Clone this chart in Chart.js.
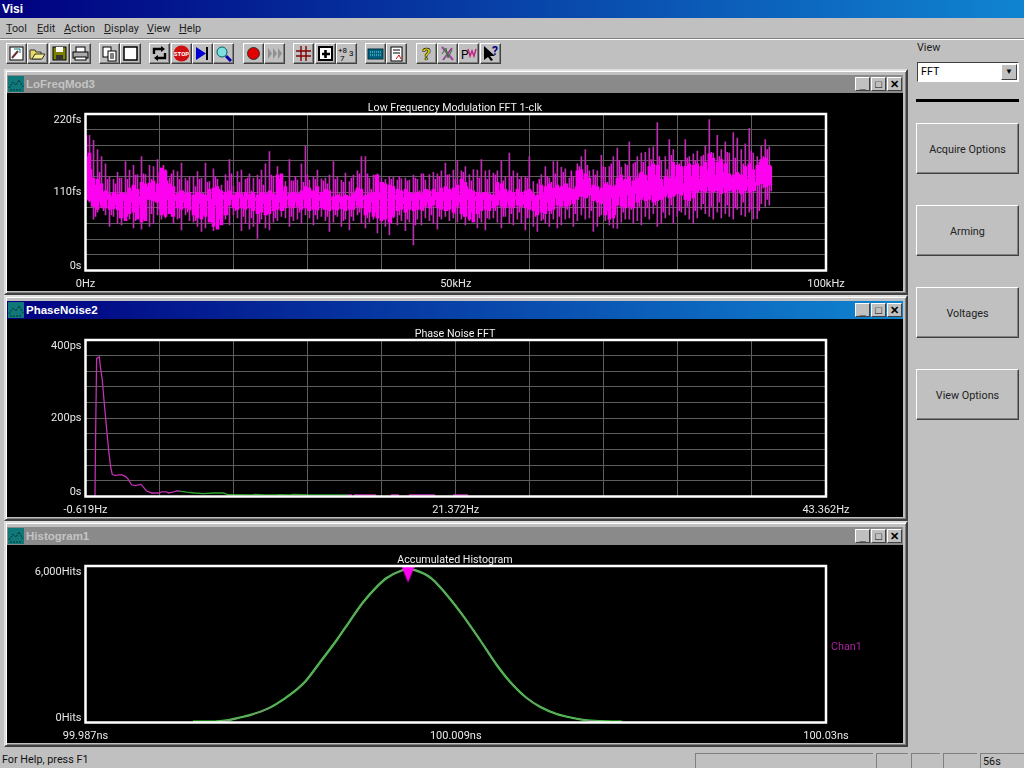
<!DOCTYPE html>
<html><head><meta charset="utf-8">
<script src="https://cdn.jsdelivr.net/npm/chart.js@4"></script>
<style>
html,body{margin:0;padding:0;width:1024px;height:768px;overflow:hidden;background:#c0c0c0;font-family:Roboto,"Liberation Sans",Arial,sans-serif;font-size:10.8px;color:#000}
.abs{position:absolute;box-sizing:border-box}
#appbar{left:0;top:0;width:1024px;height:18px;background:linear-gradient(90deg,#000080,#1084d0);color:#fff;font-family:"Liberation Sans",Arial,sans-serif;font-weight:bold;font-size:12px;line-height:18px;padding-left:2px}
.menu{top:22px;font-size:10.8px;color:#222}
.menu u{text-decoration:underline}
.tb{top:43px;width:21px;height:21px;background:#c0c0c0;border:1px solid;border-color:#fff #404040 #404040 #fff;box-shadow:inset -1px -1px 0 #808080;display:flex;align-items:center;justify-content:center}
.tb svg{width:17px;height:17px;display:block}
.win{left:4px;width:904px;height:226px;background:#c0c0c0;border:2px solid;border-color:#dfdfdf #404040 #404040 #dfdfdf;box-shadow:inset 1px 1px 0 #fff,inset -1px -1px 0 #808080}
.tbar{left:1px;top:4px;right:3px;height:18px;background:#8a8a8a;color:#c4c4c4;font-family:"Liberation Sans",Arial,sans-serif;font-weight:bold;font-size:11.5px;line-height:18px;padding-left:19px}
.tbar.on{background:linear-gradient(90deg,#000080,#1084d0);color:#fff}
.ico{left:1px;top:1px;width:16px;height:16px}
.wb{top:2px;width:15px;height:14px;background:#c0c0c0;border:1px solid;border-color:#fff #404040 #404040 #fff;color:#000;font-size:11px;line-height:12px;text-align:center;font-family:"Liberation Sans",Arial,sans-serif}
.client{left:1px;top:22px;width:896px;height:198px;background:#000}
.client canvas{display:block}
.rbtn{left:916px;width:103px;height:51px;border:1px solid;border-color:#fff #404040 #404040 #fff;box-shadow:inset -1px -1px 0 #808080;text-align:center;line-height:51px;font-size:10.8px;color:#222}
.pane{top:753px;height:15px;border-top:1px solid #808080;border-left:1px solid #808080;font-size:10.8px;line-height:15px;padding-left:2px;color:#111}
</style></head><body>
<div class="abs" id="appbar">Visi</div>
<div class="abs menu" style="left:6px"><u>T</u>ool</div>
<div class="abs menu" style="left:37px"><u>E</u>dit</div>
<div class="abs menu" style="left:64px"><u>A</u>ction</div>
<div class="abs menu" style="left:104px"><u>D</u>isplay</div>
<div class="abs menu" style="left:147px"><u>V</u>iew</div>
<div class="abs menu" style="left:179px"><u>H</u>elp</div>
<div class="abs" style="left:0;top:38px;width:1024px;height:1px;background:#808080"></div>
<div class="abs" style="left:0;top:39px;width:1024px;height:1px;background:#fff"></div>
<div id="tools"></div>

<div class="abs win" style="top:69px"><div class="abs tbar"><svg class="abs ico" viewBox="0 0 16 16"><rect width="16" height="16" fill="#107878"/><path d="M1 12l4-6 3 3 3-5 4 7M2 14h12" stroke="#033" fill="none" stroke-dasharray="2 1"/></svg>LoFreqMod3
<div class="abs wb" style="right:33px">_</div><div class="abs wb" style="right:17px">□</div><div class="abs wb" style="right:1px">✕</div></div>
<div class="abs client"><canvas id="c1" width="896" height="198"></canvas></div></div>

<div class="abs win" style="top:295px"><div class="abs tbar on"><svg class="abs ico" viewBox="0 0 16 16"><rect width="16" height="16" fill="#107878"/><path d="M1 12l4-6 3 3 3-5 4 7M2 14h12" stroke="#033" fill="none" stroke-dasharray="2 1"/></svg>PhaseNoise2
<div class="abs wb" style="right:33px">_</div><div class="abs wb" style="right:17px">□</div><div class="abs wb" style="right:1px">✕</div></div>
<div class="abs client"><canvas id="c2" width="896" height="198"></canvas></div></div>

<div class="abs win" style="top:521px"><div class="abs tbar"><svg class="abs ico" viewBox="0 0 16 16"><rect width="16" height="16" fill="#107878"/><path d="M1 12l4-6 3 3 3-5 4 7M2 14h12" stroke="#033" fill="none" stroke-dasharray="2 1"/></svg>Histogram1
<div class="abs wb" style="right:33px">_</div><div class="abs wb" style="right:17px">□</div><div class="abs wb" style="right:1px">✕</div></div>
<div class="abs client"><canvas id="c3" width="896" height="198"></canvas>
<div class="abs" style="left:824px;top:95px;color:#a824a0;font-size:10.8px">Chan1</div></div></div>

<div class="abs" style="left:917px;top:41px;font-size:10.8px;color:#222">View</div>
<div class="abs" style="left:917px;top:62px;width:102px;height:20px;background:#fff;border:1px solid;border-color:#404040 #fff #fff #404040;padding-left:3px;line-height:18px;font-size:10.8px">FFT
<div class="abs" style="right:1px;top:1px;width:16px;height:16px;background:#c0c0c0;border:1px solid;border-color:#fff #404040 #404040 #fff;font-size:8px;line-height:14px;text-align:center">▼</div></div>
<div class="abs" style="left:916px;top:99px;width:103px;height:3px;background:#000"></div>
<div class="abs rbtn" style="top:123px">Acquire Options</div>
<div class="abs rbtn" style="top:205px">Arming</div>
<div class="abs rbtn" style="top:287px">Voltages</div>
<div class="abs rbtn" style="top:369px">View Options</div>

<div class="abs" style="left:2px;top:753px;font-size:10.8px;color:#111">For Help, press F1</div>
<div class="abs pane" style="left:695px;width:178px"></div>
<div class="abs pane" style="left:876px;width:32px"></div>
<div class="abs pane" style="left:911px;width:29px"></div>
<div class="abs pane" style="left:943px;width:34px"></div>
<div class="abs pane" style="left:980px;width:44px">56s</div>

<script>
// ---- Low Frequency Modulation FFT (femtoseconds, one column every binKHz)
const binKHz = 0.54;
const lfSpikeHigh = [197,190,183,170,160,150,132,128,138,130,153,141,148,135,160,135,148,146,156,144,142,130,141,139,151,130,132,132,139,130,151,125,143,128,120,135,156,118,139,141,128,136,130,134,141,150,167,132,146,134,125,156,126,127,150,175,127,132,141,129,130,134,153,132,127,137,125,134,140,160,160,130,134,136,130,128,132,131,127,129,130,127,134,128,136,127,135,138,136,140,151,135,141,155,140,146,135,142,141,156,140,141,137,140,155,132,165,140,137,132,132,160,125,122,135,146,130,153,153,145,143,130,132,150,160,170,140,142,140,162,145,146,160,172,145,150,181,150,160,165,166,172,174,208,155,160,184,170,152,155,184,160,164,168,160,175,212,165,190,170,181,165,194,186,170,178,200,165,160,175,184,174];
const lfSpikeLow = [98,96,72,82,88,78,62,76,66,64,70,72,60,74,58,70,62,66,78,72,74,80,66,72,57,78,70,68,62,55,60,72,56,68,76,72,64,78,74,56,66,58,62,45,72,60,57,68,70,76,74,62,70,72,66,78,74,64,72,76,70,55,68,76,62,72,57,70,78,66,60,68,72,53,66,62,50,74,64,70,56,68,36,72,64,74,70,66,58,72,76,70,74,68,72,64,70,76,60,68,57,72,74,68,60,76,66,64,72,66,57,74,62,55,70,66,62,72,60,64,72,74,62,70,78,72,74,55,62,78,70,64,60,59,68,72,72,66,70,64,76,72,80,62,66,74,78,66,76,82,78,72,66,74,86,80,76,72,82,74,80,76,72,86,78,76,82,72,73,94,90,92];
const lfCoreHigh = [190,165,130,128,122,112,108,110,107,110,108,116,120,114,124,122,123,126,122,144,140,122,118,108,112,108,110,106,110,108,106,114,116,118,112,110,112,106,110,108,110,107,110,106,110,108,112,108,134,136,118,108,110,108,112,118,116,112,118,110,114,112,104,106,104,106,104,108,116,114,106,108,110,134,124,122,120,118,114,112,114,110,108,110,108,114,112,114,110,116,118,114,116,120,128,124,114,112,110,108,110,108,106,124,122,114,112,110,114,110,112,114,108,106,120,118,122,116,120,118,122,116,114,140,142,136,130,120,118,116,122,120,118,130,134,128,132,126,130,138,134,146,150,148,128,132,130,152,148,146,146,150,148,150,146,152,164,158,152,156,150,136,134,138,134,146,150,142,148,156,158,148];
const lfCoreLow = [100,98,90,86,90,88,86,87,85,74,70,80,82,72,68,70,100,98,96,78,76,80,76,88,86,88,85,78,74,72,76,68,62,58,64,78,92,88,86,88,86,88,84,80,82,78,80,84,86,84,88,90,88,90,86,88,84,86,85,88,86,84,86,85,87,84,86,86,90,88,78,82,76,74,70,72,68,76,84,86,82,86,84,86,85,90,88,92,88,86,84,86,82,90,80,76,72,68,80,84,86,84,88,92,90,88,90,88,92,90,88,86,84,78,82,80,84,86,92,90,90,92,94,100,104,102,106,98,96,94,78,72,74,92,90,88,90,88,96,100,98,100,96,98,100,104,102,104,108,106,100,98,102,110,112,110,112,110,112,108,110,112,110,114,108,112,110,112,120,122,118,120];
const lfFillHigh = [160,142,120,138,110,128,104,122,130,108,128,112,134,104,136,118,128,110,138,148,126,136,106,128,112,126,102,118,128,108,124,100,132,114,106,126,136,108,124,104,130,112,102,128,120,108,134,106,128,112,104,126,132,108,124,134,112,128,106,126,122,102,128,108,124,106,130,112,136,104,136,114,134,108,124,100,128,106,132,102,126,108,130,112,136,114,104,128,132,110,134,112,128,106,138,118,126,104,130,110,128,106,134,112,126,108,132,104,128,106,130,112,104,128,108,132,124,136,116,138,122,140,118,146,128,148,116,134,112,146,124,150,120,154,126,148,118,152,136,152,126,156,134,160,118,142,162,130,150,122,158,132,154,128,162,140,166,134,160,138,166,130,158,136,150,128,168,124,152,160,170,146];
const lfFillLow = [100,90,76,96,84,100,78,92,74,98,76,96,70,92,72,100,80,96,86,80,100,76,98,74,96,82,102,70,94,78,98,68,92,72,100,78,100,84,102,76,100,74,98,66,94,78,100,74,96,84,100,76,96,82,100,86,102,78,98,86,76,100,78,96,70,100,76,98,82,100,74,96,82,100,72,98,66,100,78,94,72,98,64,100,84,96,78,100,76,98,84,100,80,96,76,100,82,98,74,100,74,98,84,100,76,96,80,100,82,94,74,98,76,100,72,96,80,102,76,98,86,100,80,104,88,102,84,100,76,104,84,102,78,104,82,106,86,108,90,104,88,106,92,100,82,108,92,106,84,110,90,112,84,114,94,118,90,112,96,116,92,114,88,110,96,118,86,112,84,116,100,112];
const lfTickLabelsX = ["0Hz","50kHz","100kHz"];
const lfTickLabelsY = ["0s","110fs","220fs"];

// ---- Phase Noise FFT (Hz, ps)
const pnPinkX = [-0.055,-0.015,0.044,0.20,0.28,0.38,0.48,0.58,0.68,0.78,0.88,0.97,1.13,1.53,1.77,1.92,2.12,2.32,2.68,2.82,3.01,3.31,3.75,3.90,4.20,4.30,4.56,4.80,4.95];
const pnPinkY = [0,172,353,357,327,297,246,199,152,109,75,56,54,56,51,44,30,28,31,24,14,9,9,12,12,9,11,14.5,14];
const pnGreenX = [4.95,5.39,5.88,6.38,6.97,7.57,7.86,9.25,9.45,10.04,10.73,10.93,11.53,11.72,12.42,12.61,14.97];
const pnGreenY = [14,11,9,7.6,9,9,4.5,4,5.5,4,4,5,4,5.5,5,4,4];
const pnTailX = [14.97,15.21,null,15.33,16.63,null,17.52,18.0,null,18.59,20.14,null,21.21,22.1];
const pnTailY = [4,4,null,4,4,null,4,4,null,4,4,null,4,4];
const pnTickLabelsX = ["-0.619Hz","21.372Hz","43.362Hz"];
const pnTickLabelsY = ["0s","200ps","400ps"];

// ---- Accumulated Histogram (ns, hits)
const hgX = [99.99324,99.99452,99.99510,99.99597,99.99655,99.99771,99.99858,99.99922,99.99975,100.00062,100.00159,100.00236,100.00311,100.00391,100.00449,100.00536,100.00573,100.00613,100.00710,100.00797,100.00892,100.00991,100.01088,100.01165,100.01262,100.01339,100.01436,100.01531,100.01630,100.01814];
const hgHits = [31,38,69,190,282,570,925,1240,1560,2310,3163,3900,4600,5200,5540,5830,5874,5840,5520,4900,4100,3163,2205,1564,939,606,326,173,69,31];
const hgMarkerX = [100.00573];
const hgMarkerY = [5674];
const hgTickLabelsX = ["99.987ns","100.009ns","100.03ns"];
const hgTickLabelsY = ["0Hits","6,000Hits"];

const FAM = 'Roboto,"Liberation Sans",Arial,sans-serif';
const FS = 11;
const boxPlugin = {id:'box',afterDatasetsDraw(c){const a=c.chartArea,x=c.ctx;x.save();x.strokeStyle='#fff';x.lineWidth=2.5;x.strokeRect(a.left,a.top,a.width,a.height);x.restore();}};

function scales(xmin,xmax,xdiv,xl,ymax,ydiv,yl,grid){
  const step=(arr,n)=>n/(arr.length-1);
  const yLast=ydiv;
  return {
    x:{type:'linear',min:xmin,max:xmax,offset:false,
       afterBuildTicks(s){s.ticks=Array.from({length:xdiv+1},(_,k)=>({value:xmin+(xmax-xmin)*k/xdiv}));},
       afterFit(s){s.height=20.5;},
       grid:{display:grid,offset:false,color:'#5e5e5e',lineWidth:1,drawTicks:false},border:{display:false},
       ticks:{color:'#e8e8e8',font:{family:FAM,size:FS},padding:7,maxRotation:0,autoSkip:false,
         callback:(v,i)=>i%step(xl,xdiv)===0?xl[i/step(xl,xdiv)]:''}},
    y:{min:0,max:ymax,
       afterBuildTicks(s){s.ticks=Array.from({length:ydiv+1},(_,k)=>({value:ymax*k/ydiv}));},
       afterFit(s){s.width=78.5;},
       grid:{display:grid,color:'#5e5e5e',lineWidth:1,drawTicks:false},border:{display:false},
       ticks:{color:'#e8e8e8',padding:4,autoSkip:false,
         font:c=>({family:FAM,size:FS,lineHeight:(c.index===0?9:c.index===yLast?12:15)/FS}),
         callback:(v,i)=>{ if(i%step(yl,ydiv)!==0) return ''; const t=yl[i/step(yl,ydiv)];
           return i===0?[t,'']:i===yLast?['',t]:t; }}},
    yRight:{position:'right',display:true,afterFit(s){s.width=77;},grid:{display:false},border:{display:false},ticks:{display:false}}
  };
}
function opts(title,sc){return {responsive:false,animation:false,devicePixelRatio:1,
  layout:{padding:0},
  plugins:{legend:{display:false},tooltip:{enabled:false},
    title:{display:true,text:title,color:'#f0f0f0',font:{family:FAM,size:10.7,weight:'normal',lineHeight:11/10.7},padding:{top:10,bottom:0}}},
  scales:sc};}
const pts=(xs,ys)=>xs.map((x,i)=>({x,y:ys[i]}));

new Chart(document.getElementById('c1'),{type:'bar',plugins:[boxPlugin],data:{datasets:[
  {label:'Spikes',grouped:false,order:3,barThickness:1,backgroundColor:'#bc2cb0',
   data:lfSpikeHigh.map((h,i)=>({x:i*binKHz,y:[lfSpikeLow[i],h]}))},
  {label:'Fill',grouped:false,order:2,barThickness:1,backgroundColor:'#e814dc',
   data:lfFillHigh.map((h,i)=>({x:(i+0.5)*binKHz,y:[lfFillLow[i],h]}))},
  {label:'Chan1',grouped:false,order:1,barThickness:3,backgroundColor:'#ff00f0',
   data:lfCoreHigh.map((h,i)=>({x:i*binKHz,y:[lfCoreLow[i],h]}))}
]},options:opts('Low Frequency Modulation FFT 1-clk',scales(0,100,10,lfTickLabelsX,220,10,lfTickLabelsY,true))});

new Chart(document.getElementById('c2'),{type:'line',plugins:[boxPlugin],data:{datasets:[
  {label:'Phase noise',data:pts(pnPinkX,pnPinkY),borderColor:'#c030b0',borderWidth:1.3,pointRadius:0,tension:0},
  {label:'Phase noise low',data:pts(pnGreenX,pnGreenY),borderColor:'#2fa52f',borderWidth:1.3,pointRadius:0,tension:0},
  {label:'Phase noise tail',data:pts(pnTailX,pnTailY),borderColor:'#c030b0',borderWidth:1.6,pointRadius:0,tension:0,spanGaps:false}
]},options:opts('Phase Noise FFT',scales(-0.619,43.362,10,pnTickLabelsX,400,10,pnTickLabelsY,true))});

const tri=document.createElement('canvas');tri.width=13;tri.height=16;
{const t=tri.getContext('2d');t.fillStyle='#ff00f0';t.beginPath();t.moveTo(0,0);t.lineTo(13,0);t.lineTo(6.5,16);t.closePath();t.fill();}

new Chart(document.getElementById('c3'),{type:'line',plugins:[boxPlugin],data:{datasets:[
  {label:'Chan1 fit',order:3,data:pts(hgX,hgHits),borderColor:'#28f028',borderWidth:2.2,pointRadius:0,cubicInterpolationMode:'monotone'},
  {label:'Chan1',order:2,data:pts(hgX,hgHits),borderColor:'#808880',borderWidth:1.2,pointRadius:0,cubicInterpolationMode:'monotone'},
  {label:'Marker',order:1,data:pts(hgMarkerX,hgMarkerY),showLine:false,pointStyle:tri,pointRadius:8}
]},options:opts('Accumulated Histogram',scales(99.987,100.03,10,hgTickLabelsX,6000,10,hgTickLabelsY,false))});

// ---- toolbar buttons
const toolLefts=[6,27,49,70,99,120,149,171,192,213,243,264,293,315,336,365,386,416,437,458,480];
const toolIcons=[
'<rect x="2" y="2" width="13" height="13" fill="#fff" stroke="#000"/><path d="M4 13L10 6" stroke="#633" stroke-width="2"/><path d="M6 4h6v4" stroke="#008080" fill="none"/>',
'<path d="M1 14V5h5l1 2h5v7z" fill="#e8d860" stroke="#333"/><path d="M3 14l3-5h10l-3 5z" fill="#f4ec90" stroke="#333"/>',
'<rect x="2" y="2" width="13" height="13" fill="#808000" stroke="#000"/><rect x="5" y="2" width="7" height="5" fill="#fff"/><rect x="5" y="10" width="7" height="5" fill="#333"/>',
'<rect x="4" y="2" width="9" height="6" fill="#fff" stroke="#000"/><rect x="1" y="7" width="15" height="6" fill="#aaa" stroke="#000"/><rect x="3" y="12" width="11" height="3" fill="#fff" stroke="#000"/>',
'<rect x="2" y="2" width="8" height="10" fill="#fff" stroke="#000"/><rect x="7" y="6" width="8" height="10" fill="#fff" stroke="#000"/><path d="M9 9h4M9 11h4M9 13h4" stroke="#000"/>',
'<rect x="2" y="2" width="13" height="13" fill="#fff" stroke="#000" stroke-width="1.5"/>',
'<path d="M3 9V4h9M14 8v5H5" fill="none" stroke="#000" stroke-width="2.4"/><path d="M10 1l4 3-4 3zM7 10l-4 3 4 3z" fill="#000"/>',
'<circle cx="8.5" cy="8.5" r="8" fill="#d01010"/><text x="8.5" y="11" font-size="6" font-weight="bold" fill="#fff" text-anchor="middle">STOP</text>',
'<path d="M2 2l10 6.5L2 15z" fill="#0000d0"/><rect x="12" y="2" width="2" height="13" fill="#000"/>',
'<circle cx="7" cy="7" r="5" fill="#80e0e0" stroke="#006060"/><path d="M11 11l5 5" stroke="#0000b0" stroke-width="3"/>',
'<circle cx="8.5" cy="8.5" r="6" fill="#e00000" stroke="#333"/>',
'<path d="M2 3l4 5.5-4 5.5zM7 3l4 5.5-4 5.5zM12 3l4 5.5-4 5.5z" fill="#909090"/>',
'<path d="M1 6h15M1 11h15M6 1v15M11 1v15" stroke="#800000" stroke-width="1.4"/>',
'<rect x="1" y="1" width="15" height="15" fill="#000"/><rect x="3" y="3" width="11" height="11" fill="#fff"/><path d="M8.5 5v8M5 9h8" stroke="#000" stroke-width="2.6"/>',
'<text x="0" y="8" font-size="8" fill="#000">+8</text><text x="11" y="11" font-size="8" fill="#000">3</text><text x="2" y="16" font-size="8" fill="#000">7</text>',
'<rect x="1" y="4" width="15" height="10" fill="#006080" stroke="#003040"/><path d="M3 7h11M3 10h11" stroke="#80e0e0" stroke-dasharray="1 1"/>',
'<rect x="3" y="2" width="11" height="14" fill="#fff" stroke="#000"/><path d="M5 5h7M5 8h7" stroke="#000"/><path d="M8 14l3-4 2 4" stroke="#d01010" fill="none"/>',
'<text x="8.5" y="15" font-size="17" font-weight="bold" fill="#e8e000" stroke="#000" stroke-width=".6" text-anchor="middle">?</text>',
'<path d="M3 2l11 13M13 3L4 15" stroke="#a040a0" stroke-width="2"/><path d="M3 9l4-6 2 10 4-8" stroke="#208020" fill="none"/>',
'<text x="1" y="14" font-size="12" fill="#000">P</text><path d="M8 4l2 7 2-5 2 5 2-7" stroke="#c02080" fill="none" stroke-width="1.4"/>',
'<path d="M2 1v14l4-3 3 4 2-1-3-4h5z" fill="#000"/><text x="10" y="10" font-size="12" font-weight="bold" fill="#000080">?</text>'
];
document.getElementById('tools').innerHTML=toolLefts.map((l,i)=>`<div class="abs tb" style="left:${l}px"><svg viewBox="0 0 17 17">${toolIcons[i]}</svg></div>`).join('');
</script>
</body></html>
